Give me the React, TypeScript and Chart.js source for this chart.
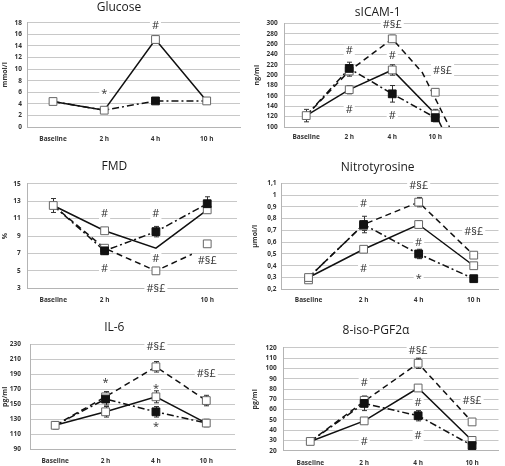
import React, { useEffect, useRef } from "react";
import { Chart, registerables } from "chart.js";
Chart.register(...registerables);

type Pt = [number, number];
type Note = [number, number, string];

const CATEGORIES = ["Baseline", "2 h", "4 h", "10 h"];
const FMD_CATEGORIES = ["Baseline", "2 h", "", "10 h"];

// ---- Glucose (mmol/l)
const GLU_Y_TICKS = [0, 2, 4, 6, 8, 10, 12, 14, 16, 18];
const GLU_SOLID = [4.4, 2.9, 15.1, 4.5];
const GLU_SOLID_ERR = [0.3, 0.3, 0.6, 0.3];
const GLU_DASHDOT = [4.4, 2.9, 4.5, 4.5];
const GLU_FILLED = [null, null, 4.5, null];
const GLU_FILLED_ERR = [0, 0, 0.3, 0];
const GLU_NOTES: Note[] = [[1, 5.8, "*"], [2, 17.6, "#"]];

// ---- sICAM-1 (ng/ml)
const SICAM_Y_TICKS = [100, 120, 140, 160, 180, 200, 220, 240, 260, 280, 300];
const SICAM_SOLID = [122, 172, 210, 125];
const SICAM_SOLID_TAIL: Pt[] = [[3.15, 100]];
const SICAM_SOLID_ERR = [12, 8, 10, 9];
const SICAM_DASHED = [122, 208, 270];
const SICAM_DASHED_TAIL: Pt[] = [[2.7, 205], [3.33, 100]];
const SICAM_DASHED_MARKS = [null, 208, 270, 167];
const SICAM_DASHED_ERR = [0, 10, 7, 6];
const SICAM_DASHDOT = [122, 213, 164, 118];
const SICAM_FILLED = [null, 213, 164, 118];
const SICAM_FILLED_ERR = [0, 12, 16, 8];
const SICAM_NOTES: Note[] = [
  [2, 298, "#§£"], [1, 247, "#"], [2, 239, "#"], [3.17, 210, "#§£"], [1, 134, "#"], [2, 122, "#"],
];

// ---- FMD (%)
const FMD_Y_TICKS = [3, 5, 7, 9, 11, 13, 15];
const FMD_SOLID = [12.5, 9.6, 7.6, 12.0];
const FMD_SOLID_MARKS = [12.5, 9.6, null, 12.0];
const FMD_SOLID_ERR = [0.8, 0.3, 0, 0.4];
const FMD_DASHED = [12.5, 7.6, 5.0];
const FMD_DASHED_TAIL: Pt[] = [[2.7, 6.9]];
const FMD_DASHED_MARKS = [null, 7.6, 5.0, 8.1];
const FMD_DASHED_ERR = [0, 0.3, 0.2, 0.3];
const FMD_DASHDOT = [12.5, 7.3, 9.5, 12.7];
const FMD_FILLED = [null, 7.3, 9.5, 12.7];
const FMD_FILLED_ERR = [0, 0.4, 0.6, 0.8];
const FMD_NOTES: Note[] = [
  [1, 11.6, "#"], [2, 11.6, "#"], [2, 6.4, "#"], [1, 5.3, "#"], [3, 6.25, "#§£"], [2, 3.0, "#§£"],
];

// ---- Nitrotyrosine (µmol/l)
const NT_Y_TICKS = [0.2, 0.3, 0.4, 0.5, 0.6, 0.7, 0.8, 0.9, 1.0, 1.1];
const NT_Y_LABELS = ["0,2", "0,3", "0,4", "0,5", "0,6", "0,7", "0,8", "0,9", "1", "1,1"];
const NT_SOLID = [0.3, 0.54, 0.75, 0.4];
const NT_SOLID_ERR = [0.02, 0.02, 0.03, 0.02];
const NT_DASHED = [0.3, 0.75, 0.94, 0.49];
const NT_DASHED_MARKS = [0.28, 0.74, 0.94, 0.49];
const NT_DASHED_ERR = [0.02, 0.04, 0.04, 0.02];
const NT_DASHDOT = [0.3, 0.75, 0.5, 0.29];
const NT_FILLED = [null, 0.75, 0.5, 0.29];
const NT_FILLED_ERR = [0, 0.07, 0.04, 0.02];
const NT_NOTES: Note[] = [
  [2, 1.085, "#§£"], [1, 0.93, "#"], [3, 0.69, "#§£"], [2, 0.6, "#"], [1, 0.38, "#"], [2, 0.29, "*"],
];

// ---- IL-6 (pg/ml)
const IL6_Y_TICKS = [90, 110, 130, 150, 170, 190, 210, 230];
const IL6_SOLID = [122, 140, 160, 125];
const IL6_SOLID_ERR = [5, 7, 8, 5];
const IL6_DASHED = [122, 160, 200, 155];
const IL6_DASHED_MARKS = [null, 160, 200, 155];
const IL6_DASHED_ERR = [0, 7, 7, 7];
const IL6_DASHDOT = [122, 157, 140, 125];
const IL6_FILLED = [null, 157, 140, null];
const IL6_FILLED_ERR = [0, 8, 7, 0];
const IL6_NOTES: Note[] = [
  [2, 227, "#§£"], [3, 191, "#§£"], [1, 179, "*"], [2, 171, "*"], [2, 120, "*"],
];

// ---- 8-iso-PGF2α (pg/ml)
const ISO_Y_TICKS = [20, 30, 40, 50, 60, 70, 80, 90, 100, 110, 120];
const ISO_SOLID = [29, 49, 81, 30];
const ISO_SOLID_ERR = [2, 2, 3, 3];
const ISO_DASHED = [29, 68, 105, 48];
const ISO_DASHED_MARKS = [null, 69, 105, 48];
const ISO_DASHED_ERR = [0, 4, 5, 2];
const ISO_DASHDOT = [29, 66, 54, 25];
const ISO_FILLED = [null, 66, 54, 25];
const ISO_FILLED_ERR = [0, 7, 5, 2];
const ISO_NOTES: Note[] = [
  [2, 118, "#§£"], [1, 86, "#"], [2, 67, "#"], [3, 69, "#§£"], [2, 35, "#"], [1, 29, "#"],
];

// ---- styles
const SOLID: number[] = [];
const DASH = [6, 4];
const DASHDOT = [7, 3, 2, 3];
const FONT = "'Open Sans', 'Noto Sans', sans-serif";
const GRID = "#c8c8c8";
const AXIS = "#b4b4b4";
const TEXT = "#333";

type LineSpec = { vals: number[]; tail?: Pt[]; dash: number[] };
type MarkSpec = { vals: (number | null)[]; errs: number[]; filled: boolean };
type PanelSpec = {
  title: string;
  titlePos: [number, number];
  yTitle: string;
  yTicks: number[];
  yLabels?: string[];
  cats: string[];
  lines: LineSpec[];
  marks: MarkSpec[];
  notes: Note[];
  box: [number, number, number, number];
  area: [number, number, number, number];
  xMax: number;
  xPad: number;
  yPad: number;
  yTitleX: number;
};

const PANELS: PanelSpec[] = [
  {
    title: "Glucose", titlePos: [119, 8], yTitle: "mmol/l", yTicks: GLU_Y_TICKS, cats: CATEGORIES,
    lines: [{ vals: GLU_SOLID, dash: SOLID }, { vals: GLU_DASHDOT, dash: DASHDOT }],
    marks: [
      { vals: GLU_SOLID, errs: GLU_SOLID_ERR, filled: false },
      { vals: GLU_FILLED, errs: GLU_FILLED_ERR, filled: true },
    ],
    notes: GLU_NOTES,
    box: [0, 0, 250, 150], area: [27.4, 22.7, 240, 127], xMax: 3.65, xPad: 8, yPad: 5.5, yTitleX: 5,
  },
  {
    title: "sICAM-1", titlePos: [127.7, 13], yTitle: "ng/ml", yTicks: SICAM_Y_TICKS, cats: CATEGORIES,
    lines: [
      { vals: SICAM_SOLID, tail: SICAM_SOLID_TAIL, dash: SOLID },
      { vals: SICAM_DASHED, tail: SICAM_DASHED_TAIL, dash: DASH },
      { vals: SICAM_DASHDOT, dash: DASHDOT },
    ],
    marks: [
      { vals: SICAM_SOLID, errs: SICAM_SOLID_ERR, filled: false },
      { vals: SICAM_DASHED_MARKS, errs: SICAM_DASHED_ERR, filled: false },
      { vals: SICAM_FILLED, errs: SICAM_FILLED_ERR, filled: true },
    ],
    notes: SICAM_NOTES,
    box: [250, 0, 255, 150], area: [34.7, 23.3, 253, 127], xMax: 4.47, xPad: 6, yPad: 7, yTitleX: 7.3,
  },
  {
    title: "FMD", titlePos: [114.3, 17], yTitle: "%", yTicks: FMD_Y_TICKS, cats: FMD_CATEGORIES,
    lines: [
      { vals: FMD_SOLID, dash: SOLID },
      { vals: FMD_DASHED, tail: FMD_DASHED_TAIL, dash: DASH },
      { vals: FMD_DASHDOT, dash: DASHDOT },
    ],
    marks: [
      { vals: FMD_SOLID_MARKS, errs: FMD_SOLID_ERR, filled: false },
      { vals: FMD_DASHED_MARKS, errs: FMD_DASHED_ERR, filled: false },
      { vals: FMD_FILLED, errs: FMD_FILLED_ERR, filled: true },
    ],
    notes: FMD_NOTES,
    box: [0, 150, 250, 160], area: [27.6, 33.7, 237, 138.3], xMax: 3.58, xPad: 8, yPad: 7, yTitleX: 4.7,
  },
  {
    title: "Nitrotyrosine", titlePos: [127.7, 17.5], yTitle: "µmol/l", yTicks: NT_Y_TICKS, yLabels: NT_Y_LABELS, cats: CATEGORIES,
    lines: [
      { vals: NT_SOLID, dash: SOLID },
      { vals: NT_DASHED, dash: DASH },
      { vals: NT_DASHDOT, dash: DASHDOT },
    ],
    marks: [
      { vals: NT_SOLID, errs: NT_SOLID_ERR, filled: false },
      { vals: NT_DASHED_MARKS, errs: NT_DASHED_ERR, filled: false },
      { vals: NT_FILLED, errs: NT_FILLED_ERR, filled: true },
    ],
    notes: NT_NOTES,
    box: [250, 150, 255, 160], area: [31, 33.3, 251.7, 139.3], xMax: 3.45, xPad: 7, yPad: 4.5, yTitleX: 5,
  },
  {
    title: "IL-6", titlePos: [114.3, 18], yTitle: "pg/ml", yTicks: IL6_Y_TICKS, cats: CATEGORIES,
    lines: [
      { vals: IL6_SOLID, dash: SOLID },
      { vals: IL6_DASHED, dash: DASH },
      { vals: IL6_DASHDOT, dash: DASHDOT },
    ],
    marks: [
      { vals: IL6_SOLID, errs: IL6_SOLID_ERR, filled: false },
      { vals: IL6_DASHED_MARKS, errs: IL6_DASHED_ERR, filled: false },
      { vals: IL6_FILLED, errs: IL6_FILLED_ERR, filled: true },
    ],
    notes: IL6_NOTES,
    box: [0, 310, 250, 156], area: [30, 34.3, 235, 139.3], xMax: 3.57, xPad: 8, yPad: 9, yTitleX: 5,
  },
  {
    title: "8-iso-PGF2α", titlePos: [126, 21], yTitle: "pg/ml", yTicks: ISO_Y_TICKS, cats: CATEGORIES,
    lines: [
      { vals: ISO_SOLID, dash: SOLID },
      { vals: ISO_DASHED, dash: DASH },
      { vals: ISO_DASHDOT, dash: DASHDOT },
    ],
    marks: [
      { vals: ISO_SOLID, errs: ISO_SOLID_ERR, filled: false },
      { vals: ISO_DASHED_MARKS, errs: ISO_DASHED_ERR, filled: false },
      { vals: ISO_FILLED, errs: ISO_FILLED_ERR, filled: true },
    ],
    notes: ISO_NOTES,
    box: [250, 310, 255, 156], area: [33.3, 37.9, 251.7, 140.7], xMax: 3.49, xPad: 9, yPad: 6.6, yTitleX: 5,
  },
];

function buildConfig(spec: PanelSpec): any {
  const [, , w, h] = spec.box;
  const [L, T, R, B] = spec.area;
  const datasets: any[] = [];
  spec.lines.forEach((l) => {
    const data = l.vals
      .map((v, i) => ({ x: i, y: v }))
      .concat((l.tail || []).map(([x, y]) => ({ x, y })));
    datasets.push({
      type: "line", data, borderColor: "#111", borderWidth: 1.5, borderDash: l.dash,
      pointRadius: 0, fill: false, tension: 0, order: 3,
    });
  });
  spec.marks.forEach((m) => {
    datasets.push({
      type: "line", data: m.vals.map((v, i) => ({ x: i, y: v })), showLine: false,
      pointStyle: "rect", pointRadius: 5.5,
      pointBackgroundColor: m.filled ? "#111" : "#fff",
      pointBorderColor: m.filled ? "#111" : "#666",
      pointBorderWidth: 1, order: m.filled ? 1 : 2, errs: m.errs,
    });
  });

  const notesPlugin = {
    id: "notes",
    beforeDatasetsDraw(chart: any) {
      const { ctx, scales } = chart;
      ctx.save();
      ctx.font = `11px ${FONT}`;
      ctx.textAlign = "center";
      ctx.textBaseline = "middle";
      for (const [nx, ny, t] of spec.notes) {
        const px = scales.x.getPixelForValue(nx);
        const py = scales.y.getPixelForValue(ny);
        const tw = ctx.measureText(t).width;
        ctx.fillStyle = "#fff";
        ctx.fillRect(px - tw / 2 - 2, py - 6, tw + 4, 12);
        ctx.fillStyle = "#333";
        ctx.fillText(t, px, py + 0.5);
      }
      ctx.restore();
    },
  };

  const errPlugin = {
    id: "errbars",
    beforeDatasetsDraw(chart: any) {
      const { ctx, scales } = chart;
      ctx.save();
      ctx.strokeStyle = "#333";
      ctx.lineWidth = 1;
      chart.data.datasets.forEach((ds: any) => {
        if (!ds.errs) return;
        ds.data.forEach((p: any, i: number) => {
          const e = ds.errs[i];
          if (p.y == null || !e) return;
          const px = Math.round(scales.x.getPixelForValue(p.x)) + 0.5;
          const y1 = scales.y.getPixelForValue(p.y + e);
          const y2 = scales.y.getPixelForValue(p.y - e);
          ctx.beginPath();
          ctx.moveTo(px, y1); ctx.lineTo(px, y2);
          ctx.moveTo(px - 2.5, y1); ctx.lineTo(px + 2.5, y1);
          ctx.moveTo(px - 2.5, y2); ctx.lineTo(px + 2.5, y2);
          ctx.stroke();
        });
      });
      ctx.restore();
    },
  };

  const titlePlugin = {
    id: "paneltitle",
    afterDraw(chart: any) {
      const { ctx } = chart;
      ctx.save();
      ctx.font = `12px ${FONT}`;
      ctx.fillStyle = "#1a1a1a";
      ctx.textAlign = "center";
      ctx.textBaseline = "middle";
      ctx.fillText(spec.title, spec.titlePos[0], spec.titlePos[1]);
      ctx.restore();
    },
  };

  const tickFont = { family: FONT, size: 6.5, weight: "bold" };
  return {
    type: "line",
    data: { datasets },
    plugins: [notesPlugin, errPlugin, titlePlugin],
    options: {
      animation: false,
      responsive: false,
      events: [],
      layout: { padding: { left: 0, top: T, right: w - R, bottom: 0 } },
      plugins: { legend: { display: false }, tooltip: { enabled: false }, title: { display: false } },
      scales: {
        x: {
          type: "linear", min: -0.5, max: spec.xMax,
          afterBuildTicks: (s: any) => { s.ticks = spec.cats.map((_, i) => ({ value: i })); },
          afterFit: (s: any) => { s.height = h - B; },
          grid: { display: false, drawTicks: false },
          border: { display: true, color: AXIS, width: 1 },
          ticks: {
            padding: spec.xPad, font: tickFont, color: TEXT, maxRotation: 0, autoSkip: false,
            callback: (_v: any, i: number) => spec.cats[i],
          },
        },
        y: {
          type: "linear", min: spec.yTicks[0], max: spec.yTicks[spec.yTicks.length - 1],
          afterBuildTicks: (s: any) => { s.ticks = spec.yTicks.map((v) => ({ value: v })); },
          afterFit: (s: any) => { s.width = L; },
          grid: { color: GRID, drawTicks: false, lineWidth: 1 },
          border: { display: true, color: AXIS, width: 1 },
          ticks: {
            padding: spec.yPad, font: tickFont, color: TEXT, autoSkip: false,
            callback: (v: any, i: number) => (spec.yLabels ? spec.yLabels[i] : String(v)),
          },
          title: {
            display: true, text: spec.yTitle, color: TEXT,
            font: { family: FONT, size: 7, weight: "bold" },
            padding: { top: Math.max(0, spec.yTitleX - 4.2), bottom: 0 },
          },
        },
      },
    },
  };
}

function Panel({ spec }: { spec: PanelSpec }) {
  const ref = useRef<HTMLCanvasElement>(null);
  useEffect(() => {
    if (!ref.current) return;
    const chart = new Chart(ref.current, buildConfig(spec));
    return () => chart.destroy();
  }, [spec]);
  const [x, y, w, h] = spec.box;
  return (
    <canvas
      ref={ref}
      width={w}
      height={h}
      style={{ position: "absolute", left: x, top: y, width: w, height: h }}
    />
  );
}

export default function App() {
  return (
    <div style={{ position: "absolute", left: 0, top: 0, width: 505, height: 466, background: "#fff", overflow: "hidden" }}>
      {PANELS.map((p, i) => (
        <Panel key={i} spec={p} />
      ))}
    </div>
  );
}
